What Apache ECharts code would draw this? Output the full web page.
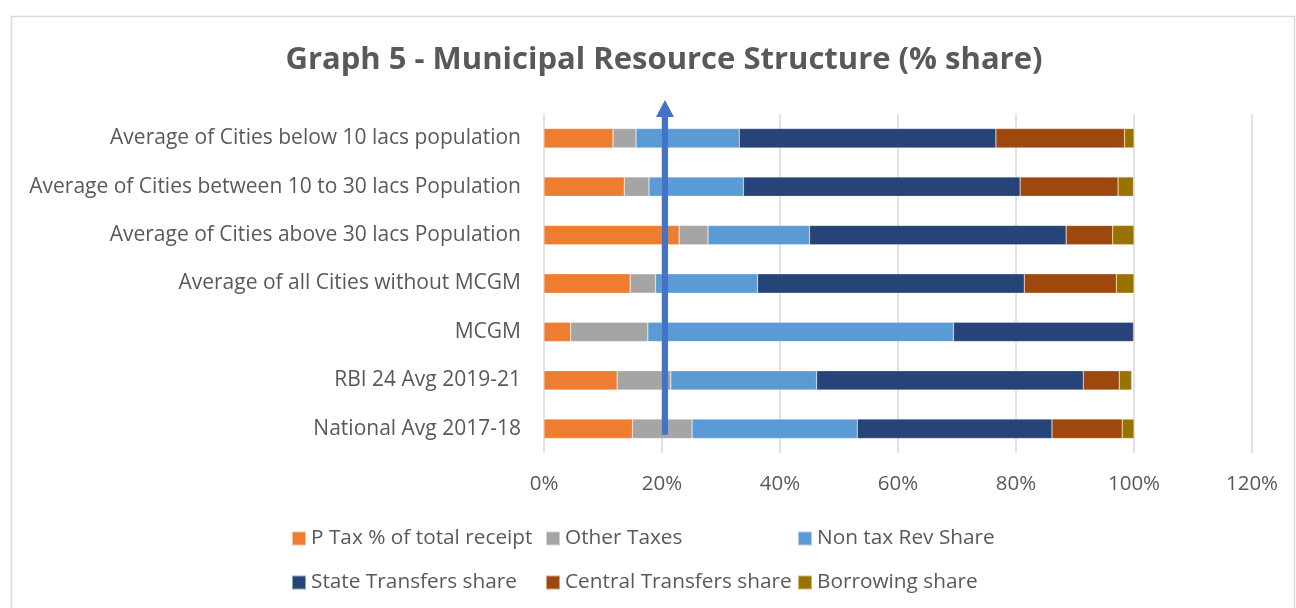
<!DOCTYPE html>
<html><head><meta charset="utf-8">
<script src="https://cdn.jsdelivr.net/npm/echarts@6/dist/echarts.min.js"></script>
<style>html,body{margin:0;padding:0;background:#fff}#c{width:1296px;height:608px}</style>
</head><body><div id="c"></div>
<script>
const title = 'Graph 5 - Municipal Resource Structure (% share)';
const categories = ['National Avg 2017-18','RBI 24 Avg 2019-21','MCGM','Average of all Cities without MCGM','Average of Cities above 30 lacs Population','Average of Cities between 10 to 30 lacs Population','Average of Cities below 10 lacs population'];
const seriesNames = ['P Tax % of total receipt','Other Taxes','Non tax Rev Share','State Transfers share','Central Transfers share','Borrowing share'];
const pTax      = [15.0, 12.4, 4.5, 14.6, 22.9, 13.6, 11.7];
const otherTax  = [10.1, 9.1, 13.1, 4.3, 4.9, 4.2, 3.9];
const nonTax    = [28.0, 24.7, 51.8, 17.3, 17.2, 16.0, 17.5];
const stateTr   = [33.0, 45.2, 30.5, 45.2, 43.5, 46.9, 43.5];
const centralTr = [11.9, 6.1, 0.2, 15.6, 7.9, 16.6, 21.8];
const borrowing = [2.0, 2.1, 0.0, 3.0, 3.6, 2.6, 1.6];
const seriesValues = [pTax, otherTax, nonTax, stateTr, centralTr, borrowing];
const colors = ['#ED7D31','#A5A5A5','#5B9BD5','#264478','#9E480E','#997300'];
const xTicks = {min:0, max:120, interval:20};
const arrowValue = 20.5;

const FONT = 'Open Sans';
const chart = echarts.init(document.getElementById('c'), null, {renderer:'canvas'});
const legendPos = [[286,523],[540,523],[792,523],[286,567],[540,567],[792,567]];
chart.setOption({
  animation:false,
  color: colors,
  textStyle:{fontFamily:FONT},
  title:{text:title, left:659, textAlign:'center', top:40, textStyle:{fontFamily:FONT, fontSize:31, fontWeight:'bold', color:'#595959'}},
  grid:{left:544, right:44, top:114, bottom:155, containLabel:false},
  legend: seriesNames.map((n,i)=>({data:[n], left:legendPos[i][0], top:legendPos[i][1], itemWidth:14, itemHeight:14, itemGap:6, icon:'rect', textStyle:{fontFamily:FONT, fontSize:20.8, color:'#595959'}, selectedMode:false})),
  xAxis:{type:'value', min:xTicks.min, max:xTicks.max, interval:xTicks.interval,
    axisLabel:{formatter:'{value}%', fontFamily:FONT, fontSize:20.5, color:'#595959', margin:21},
    axisLine:{show:false}, axisTick:{show:false},
    splitLine:{show:true, lineStyle:{color:'#D9D9D9', width:1.5}}},
  yAxis:{type:'category', data:categories, axisTick:{show:false}, axisLine:{show:false},
    axisLabel:{fontFamily:FONT, fontSize:21, color:'#595959', margin:23}},
  series: seriesNames.map((n,i)=>({name:n, type:'bar', stack:'s', data:seriesValues[i], barWidth:'40%',
    itemStyle:{color:colors[i], borderColor:'rgba(255,255,255,0.5)', borderWidth:0.5}}))
});
function drawArrow(){
  const x = chart.convertToPixel({xAxisIndex:0}, arrowValue);
  const yBottom = chart.convertToPixel({yAxisIndex:0}, categories[0]) + 6;
  const yTip = 100;
  const headBase = 117;
  chart.setOption({graphic:[
    {type:'rect', left:9, top:14, shape:{x:0,y:0,width:1283,height:600}, style:{fill:'none', stroke:'#D9D9D9', lineWidth:1.5}, silent:true, z:0},
    {type:'rect', shape:{x:x-3, y:headBase-1, width:6, height:yBottom-headBase+1}, style:{fill:'#4472C4'}, z:100},
    {type:'polygon', shape:{points:[[x, yTip],[x-9, headBase],[x+9, headBase]]}, style:{fill:'#4472C4'}, z:100}
  ]});
}
drawArrow();
</script></body></html>
